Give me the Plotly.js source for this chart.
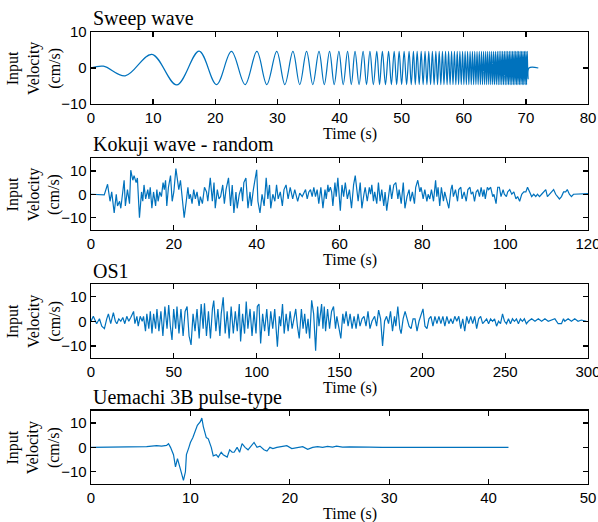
<!DOCTYPE html>
<html>
<head>
<meta charset="utf-8">
<script src="https://cdn.plot.ly/plotly-3.0.1.min.js"></script>
<style>html,body{margin:0;padding:0;background:#fff}#chart{width:598px;height:522px}</style>
</head>
<body>
<div id="chart"></div>
<script>
// ---------- data ----------
const panelTitles = ["Sweep wave", "Kokuji wave - random", "OS1", "Uemachi 3B pulse-type"];
const xRanges = [[0, 80], [0, 120], [0, 300], [0, 50]];
const xTicks = [10, 20, 50, 10];
const yRanges = [[-10, 10], [-15.3, 15.4], [-14.8, 15], [-15, 15]];
const yTickVals = [-10, 0, 10];

// Sweep wave: times of successive extremes (s) and their values (cm/s)
const sweepT = [0, 2.0, 5.5, 9.8, 13.8, 17.4, 20.2, 22.6, 24.8, 26.7,
  28.3, 29.9, 31.2, 32.5, 33.6, 34.7, 35.7, 36.7, 37.55, 38.4,
  39.15, 39.9, 40.6, 41.3, 41.9, 42.5, 43.15, 43.8, 44.35, 44.9,
  45.45, 46.0, 46.45, 46.9, 47.4, 47.9, 48.35, 48.8, 49.2, 49.6,
  50.0, 50.4, 50.8, 51.2, 51.55, 51.9, 52.2, 52.5, 52.83, 53.15,
  53.46, 53.77, 54.07, 54.37, 54.66, 54.95, 55.23, 55.51, 55.78, 56.05,
  56.31, 56.57, 56.82, 57.07, 57.32, 57.56, 57.80, 58.04, 58.27, 58.50,
  58.73, 58.95, 59.17, 59.38, 59.60, 59.81, 60.02, 60.22, 60.42, 60.62,
  60.82, 61.02, 61.21, 61.40, 61.59, 61.77, 61.96, 62.14, 62.32, 62.50,
  62.68, 62.85, 63.02, 63.19, 63.36, 63.53, 63.69, 63.85, 64.02, 64.18,
  64.34, 64.49, 64.65, 64.80, 64.95, 65.10, 65.25, 65.40, 65.55, 65.69,
  65.84, 65.98, 66.12, 66.26, 66.40, 66.54, 66.68, 66.81, 66.95, 67.08,
  67.21, 67.34, 67.47, 67.60, 67.73, 67.86, 67.99, 68.11, 68.24, 68.36,
  68.48, 68.60, 68.72, 68.84, 68.96, 69.08, 69.20, 69.31, 69.43, 69.54,
  69.66, 69.77, 69.89, 70.0, 70.11, 70.22, 70.35, 70.5, 72.0];
const sweepV = [0, 0.5, -2.2, 3.8, -4.7, 4.7,
  -4.6, 4.6, -4.6, 4.6, -4.6, 4.6, -4.6, 4.6, -4.6, 4.6, -4.6, 4.6, -4.6, 4.6, -4.6, 4.6, -4.6, 4.6, -4.6, 4.6,
  -4.6, 4.6, -4.6, 4.6, -4.6, 4.6, -4.6, 4.6, -4.6, 4.6, -4.6, 4.6, -4.6, 4.6, -4.6, 4.6, -4.6, 4.6, -4.6, 4.6,
  -4.6, 4.6, -4.6, 4.6, -4.6, 4.6, -4.6, 4.6, -4.6, 4.6, -4.6, 4.6, -4.6, 4.6, -4.6, 4.6, -4.6, 4.6, -4.6, 4.6,
  -4.6, 4.6, -4.6, 4.6, -4.6, 4.6, -4.6, 4.6, -4.6, 4.6, -4.6, 4.6, -4.6, 4.6, -4.6, 4.6, -4.6, 4.6, -4.6, 4.6,
  -4.6, 4.6, -4.6, 4.6, -4.6, 4.6, -4.6, 4.6, -4.6, 4.6, -4.6, 4.6, -4.6, 4.6, -4.6, 4.6, -4.6, 4.6, -4.6, 4.6,
  -4.6, 4.6, -4.6, 4.6, -4.6, 4.6, -4.6, 4.6, -4.6, 4.6, -4.6, 4.6, -4.6, 4.6, -4.6, 4.6, -4.6, 4.6, -4.6, 4.6,
  -4.6, 4.6, -4.6, 4.6, -4.6, 4.6, -4.6, 4.6, -4.6, 4.6, -4.6, 4.6, -4.6, 4.6, -4.6, 4.6, -4.6, 4.6, -4.6, 4.6,
  -3, 0, 0];

// Kokuji wave - random: [time s, velocity cm/s]
const kokuji = [[0,0],[3.0,0],[3.2,-0.3],[4.0,4.3],[4.6,-3],[5.0,1],[5.6,-8],[6.1,0],[6.4,-5],[6.9,-3],
  [7.2,-6],[8.0,6],[8.3,-5],[8.8,2],[9.3,-4],[9.6,10.3],[10.1,6],[10.4,8],[10.9,5],[11.2,7],
  [11.7,-10],[12.2,1],[12.5,-3],[12.8,4],[13.2,-2],[13.7,2],[14.0,-2],[14.3,3],[14.7,-6],[15.1,1],
  [15.6,-5],[15.9,2],[16.2,-3],[16.6,1],[17.0,-1],[17.4,5],[17.7,2],[18.0,6],[18.3,-5],[18.7,3],
  [19.2,8],[19.6,-3],[20.0,1],[20.5,11],[21.2,2],[21.6,6],[22.1,-4],[22.5,-10],[23.0,-3],[23.4,3],
  [23.7,-2],[24.0,0],[24.4,-4],[24.8,2],[25.2,-2],[25.6,1],[26.1,-5],[26.4,-1],[26.9,-4],[27.4,3],
  [27.9,1],[28.2,-3],[28.8,7],[29.3,-3],[29.7,5],[30.0,-6],[30.5,2],[30.9,-2],[31.3,-1],[31.8,4],
  [32.2,-4],[32.6,2],[33.2,7],[33.7,-5],[34.1,4],[34.5,-8],[35.0,1],[35.3,-6],[35.8,0],[36.3,3],
  [36.6,-3],[36.9,5],[37.4,7],[37.9,-6],[38.4,1],[38.7,-5],[39.2,2],[40.0,10.5],[40.3,-3],[40.8,-8],
  [41.3,0],[41.8,-5],[42.3,7],[42.7,-2],[43.1,4],[43.4,-6],[43.9,0],[44.4,-3],[44.8,4],[45.2,-2],
  [45.7,1],[46.2,-5],[46.6,2],[47.1,4],[47.6,-2],[48.1,3],[48.7,-2],[49.2,2],[49.9,-3],[50.4,0.5],
  [51.0,-1],[51.8,2],[52.2,-2],[52.6,1],[53.0,2],[53.4,-1],[53.8,3],[54.2,-1],[54.6,2],[55.0,-4],
  [55.5,3],[56.0,-6],[56.5,2],[56.8,-2],[57.2,4],[57.4,1],[57.8,3],[58.1,1],[58.4,-5],[58.9,5],
  [59.2,-1],[59.6,7],[60.2,-7],[60.6,4],[61.0,-1],[61.4,5],[61.9,-2],[62.4,2],[62.9,-6],[63.4,4],
  [63.8,8],[64.2,2],[64.5,-3],[65.0,5],[65.4,-6],[65.9,0],[66.2,3],[66.7,-3],[67.2,3],[67.5,0],
  [67.8,4],[68.2,-3],[68.5,1],[69.0,-4],[69.4,5],[69.8,-3],[70.2,2],[70.7,-5],[71.0,1],[71.4,-7],
  [71.8,0],[72.2,4],[72.6,-2],[73.1,4],[73.6,5],[74.1,-2],[74.4,2],[74.9,-4],[75.4,5],[75.8,-6],
  [76.3,-1],[76.8,2],[77.1,-3],[77.6,1],[78.1,-4],[78.4,3],[78.9,6],[79.4,1],[79.7,3],[80.2,-2],
  [80.6,2],[81.1,-3],[81.4,0],[81.8,-2],[82.2,2],[82.7,-3],[83.2,6],[83.5,-1],[83.8,3],[84.2,-5],
  [84.6,3],[85.1,-3],[85.4,1],[85.9,-2],[86.4,-6],[86.9,2],[87.2,4],[87.5,-1],[88.0,2],[88.5,-3],
  [88.8,2],[89.3,3],[89.6,-2],[90.1,1],[90.6,-3],[91.0,2],[91.5,3],[91.8,0],[92.2,1],[92.6,-3],
  [93.0,1],[93.4,2],[93.8,-1],[94.2,3],[94.6,-1],[94.9,2],[95.2,-2],[95.7,3],[96.0,2],[96.5,3],
  [97.0,-1],[97.3,0],[97.8,-4],[98.2,3],[98.6,3],[99.0,-1],[99.5,2],[99.8,0],[100.3,-1],[100.6,1],
  [101.1,2],[101.6,0],[102.1,1],[102.6,-2],[103.0,-1],[103.5,-3],[104.0,0],[104.5,1],[105.0,1],[105.4,3],
  [105.9,1],[106.4,-1],[106.9,0],[107.4,-1],[107.8,0],[108.3,-1],[108.8,0],[109.3,1],[109.8,2],[110.2,-1],
  [110.7,0],[111.2,1],[111.7,2],[112.2,0],[112.6,-1],[113.1,-2],[113.6,-1],[114.1,1],[114.6,1],[115.0,2],
  [115.5,0],[116.0,-1],[116.5,0],[117.0,0],[117.6,0.2],[119.6,0.3],[120,0.3]];

// OS1: [time s, velocity cm/s]
const os1 = [[0,0],[1.4,2],[3.4,-1],[5.1,1],[6.5,-2],[8.1,-3],[9.5,1],[10.5,3],[11.9,-1],[13.5,3.5],
  [14.7,0],[15.6,-1],[16.8,1],[18.0,0],[19.2,1.5],[20.4,-1],[21.6,2],[22.8,0],[24.0,1.5],[25.7,4],
  [26.5,-1],[27.7,2],[28.5,-2],[29.7,2],[30.9,0],[31.7,2],[32.9,-4],[33.7,3],[34.9,-3],[35.8,4],
  [36.8,-5],[37.8,3],[39.0,-3],[39.8,5],[41.0,-4],[42.2,4],[43.4,-6],[44.6,6],[45.9,-3],[46.9,6.6],
  [47.9,-2],[48.9,-7.6],[49.9,5],[51.1,-3],[51.9,6],[53.1,-5],[54.3,5],[55.6,-6],[56.8,4],[58.0,6],
  [59.2,-6],[60.4,-9.6],[61.6,3],[62.8,-4],[64.0,5],[65.3,-7],[66.5,7],[67.7,-3],[68.5,7.3],[69.7,-6],
  [70.9,4],[72.1,-7],[73.3,5],[74.1,8.4],[75.4,-4],[76.6,5],[77.8,-6],[78.6,3],[79.8,9.7],[81.0,-5],
  [82.2,4],[83.4,-7],[84.6,6],[85.9,-5],[87.1,4],[88.3,-4],[89.5,7],[90.3,-8.2],[91.5,3],[92.7,-5],
  [93.7,8],[94.7,-3],[96.0,5],[97.2,-6],[98.4,4],[99.6,-5],[100.4,6],[101.4,7],[102.4,-9],[103.6,3],
  [104.8,-4],[106.1,5],[107.3,-6],[108.5,4],[109.7,-3],[110.9,5],[112.5,-10.3],[113.7,2],[114.5,-2],[115.6,7],
  [116.6,-5],[117.8,3],[119.0,-4],[120.2,4],[121.4,-3],[123.6,5],[124.6,-2],[125.7,-7],[127.0,5],[128.0,-3],
  [129.0,3],[130.0,-5],[131.0,1],[132.0,-7],[133.2,8.5],[134.4,3],[135.6,-12],[136.8,6],[137.6,-2],[138.4,4],
  [139.2,7],[140.0,-3],[140.8,6],[141.6,-4],[142.8,5],[144.0,-3],[145.2,4],[146.4,6],[147.6,-3],[148.4,2],
  [149.6,-2],[150.8,-7],[152.0,3],[152.8,-1],[154.0,4],[155.2,-2],[156.4,3],[157.6,-3],[158.8,2],[160.0,-3],
  [161.2,3],[162.4,-2],[163.6,1],[164.8,2],[166.0,-2],[167.2,4],[168.4,-3],[169.6,0],[171.2,2],[172.4,-2],
  [173.6,4.5],[174.8,1],[176.0,-10],[177.2,0],[178.4,2],[179.6,-1],[180.8,4],[182.0,-4],[183.2,2],[184.0,-2],
  [185.2,6],[186.4,-3],[187.2,-5],[188.4,1],[189.6,4],[190.8,1],[192.0,-2],[193.2,-3],[194.4,1],[195.6,1],
  [196.8,-4],[198.0,0],[199.2,3],[200.4,5],[201.6,-2],[202.8,-3],[204.0,1],[205.2,2],[206.4,-2],[207.6,2],
  [208.8,-1],[210.0,2],[211.2,-1],[212.4,2],[213.6,-2],[214.8,2],[216.0,-1],[217.2,1],[218.4,-1],[219.6,2],
  [220.8,0],[222.0,2],[223.2,-3],[224.4,1],[225.6,-4],[226.8,2],[228.0,-1],[229.2,2],[230.4,-1],[231.6,2],
  [232.8,-3],[234.0,1],[235.2,2],[236.4,-1],[237.6,0],[238.8,1],[240.0,-1],[241.2,1],[242.4,0],[243.6,1],
  [244.8,-2],[246.0,0],[247.2,-1],[248.4,3],[249.6,0],[250.8,-1],[252.0,1],[253.2,-1],[254.4,1],[255.6,0],
  [256.8,1],[258.0,-1],[259.2,1],[260.4,0],[261.6,1],[262.8,-1],[264.0,0],[266.0,1],[268.0,0],[270.0,1],
  [272.0,0],[274.0,1],[276.0,0],[278.0,0.5],[280.0,1],[282.0,-1],[284.0,-1],[285.2,1],[286.0,0],[288.0,1],
  [290.0,0],[292.0,1],[294.0,0],[296.0,0.5],[299.0,0]];

// Uemachi 3B pulse-type: [time s, velocity cm/s]
const uemachi = [[0,0],[5.3,0],[5.6,0.3],[6.6,0.7],[7.1,0.5],[7.6,0.8],[7.8,1.5],[8.0,0],[8.3,-3],[8.5,-8],
  [8.7,-4.6],[9.0,-9],[9.3,-13.5],[9.5,-10],[9.6,-3],[9.85,0],[10.0,2],[10.25,4],[10.5,7],[10.7,9],
  [11.0,10.5],[11.15,12],[11.3,8.5],[11.6,4],[11.8,3.5],[12.1,0],[12.3,-3.5],[12.6,-3],[12.8,-4],[13.1,-2],
  [13.3,-3],[13.7,-4],[13.95,-1],[14.2,-2],[14.4,-2],[14.7,0],[14.95,-2],[15.2,1.5],[15.5,0],[15.8,-1],
  [16.0,0],[16.4,2],[16.7,0],[17.0,0.5],[17.4,-1],[17.7,-1.5],[18.0,0],[18.3,-0.5],[18.7,0],[19.2,0.3],
  [19.7,0.7],[20.2,-0.5],[20.9,0],[21.3,0.3],[21.8,-0.8],[22.3,0],[22.8,0.3],[23.3,0],[23.8,0.4],[24.3,0.1],
  [24.7,0.5],[25.3,0.1],[26.0,0.2],[27.0,0],[28.0,0.1],[29.3,0],[32.7,0],[36.0,-0.1],[39.4,0],[42,0]];

// ---------- drawing ----------
const SERIF = "Liberation Serif, Times New Roman, serif";
const SANS = "Liberation Sans, Arial, Helvetica, sans-serif";
const LINE = "#0072BD";
const domains = [[0.8407, 1], [0.5619, 0.7206], [0.2794, 0.4418], [0, 0.1622]];

const series = [
  {x: sweepT, y: sweepV, shape: "spline"},
  {x: kokuji.map(p => p[0]), y: kokuji.map(p => p[1]), shape: "linear"},
  {x: os1.map(p => p[0]), y: os1.map(p => p[1]), shape: "linear"},
  {x: uemachi.map(p => p[0]), y: uemachi.map(p => p[1]), shape: "linear"}
];

const traces = series.map((s, i) => ({
  type: "scatter", mode: "lines", x: s.x, y: s.y,
  xaxis: i === 0 ? "x" : "x" + (i + 1),
  yaxis: i === 0 ? "y" : "y" + (i + 1),
  line: {color: LINE, width: 1.2, shape: s.shape, smoothing: 1},
  hoverinfo: "skip", showlegend: false
}));

const axisBase = {
  showline: true, linecolor: "#000", linewidth: 1.3, mirror: "ticks",
  ticks: "inside", ticklen: 5, tickwidth: 1.3, tickcolor: "#000",
  showgrid: false, zeroline: false, fixedrange: true,
  ticklabeloverflow: "allow",
  tickfont: {family: SANS, size: 15, color: "#000"}
};

const layout = {
  width: 598, height: 522,
  margin: {l: 91, r: 10, t: 32, b: 38},
  paper_bgcolor: "#fff", plot_bgcolor: "#fff",
  showlegend: false,
  annotations: []
};

for (let i = 0; i < 4; i++) {
  const xs = i === 0 ? "" : String(i + 1);
  layout["xaxis" + xs] = Object.assign({}, axisBase, {
    domain: [0, 1], anchor: "y" + xs, range: xRanges[i], dtick: xTicks[i], tick0: 0
  });
  layout["yaxis" + xs] = Object.assign({}, axisBase, {
    domain: domains[i], anchor: "x" + xs, range: yRanges[i],
    tickmode: "array", tickvals: yTickVals
  });
  const yd = "y" + xs + " domain";
  layout.annotations.push({
    text: panelTitles[i], xref: "paper", x: 0, xanchor: "left",
    yref: yd, y: 1, yanchor: "bottom", showarrow: false,
    font: {family: SERIF, size: 20, color: "#000"}
  });
  layout.annotations.push({
    text: "Time (s)", xref: "paper", x: 0.5211, xanchor: "center",
    yref: yd, y: 0, yanchor: "middle", yshift: -30, showarrow: false,
    font: {family: SERIF, size: 16, color: "#000"}
  });
  layout.annotations.push({
    text: "Input<br>Velocity<br>(cm/s)", xref: "paper", x: -0.1147, xanchor: "center",
    yref: yd, y: 0.5, yanchor: "middle", textangle: -90, showarrow: false,
    font: {family: SERIF, size: 16, color: "#000"}
  });
}

Plotly.newPlot("chart", traces, layout, {staticPlot: true, displayModeBar: false});
</script>
</body>
</html>
